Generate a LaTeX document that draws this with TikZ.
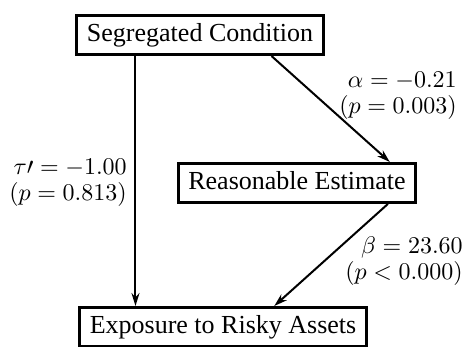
\documentclass[tikz,border=0pt]{standalone}
\usepackage[no-math]{fontspec}
\setmainfont{Liberation Serif}
\usepackage{amsmath,amssymb}
\usetikzlibrary{arrows.meta}
\tikzset{
  box node/.style={
    draw,
    line width=3pt,
    inner xsep=10pt,
    inner ysep=8pt,
    text height=18pt,
    text depth=5pt,
    font=\fontsize{26}{30}\selectfont,
  },
  coef node/.style={
    align=right,
    inner sep=0pt,
    font=\normalsize,
    scale=2.4,
    transform shape,
  },
  path arrow/.style={
    -{Stealth[length=13pt,width=8pt]},
    line width=2pt,
  },
}

\begin{document}
\begin{tikzpicture}[x=1pt, y=-1pt]
        \useasboundingbox (0,0) rectangle (468,346);

        \node[box node] (seg) at (200,35)  {Segregated Condition};
        \node[box node] (est) at (297,183) {Reasonable Estimate};
        \node[box node] (exp) at (223,327) {Exposure to Risky Assets};

        \node[coef node] (alpha) at (398,96)  {$\alpha = -0.21$\\[-1pt]$(p = 0.003)$};
        \node[coef node] (tau)   at (68,183)  {$\tau\prime = -1.00$\\[-1pt]$(p = 0.813)$};
        \node[coef node] (beta)  at (404,261) {$\beta = 23.60$\\[-1pt]$(p < 0.000)$};

        \draw[path arrow] ([xshift=60pt]seg.south west) to ([xshift=60pt]seg.south west |- exp.north);
        \draw[path arrow] ([xshift=196pt]seg.south west) to ([xshift=213pt]est.north west);
        \draw[path arrow] ([xshift=211pt]est.south west) to ([xshift=196pt]exp.north west);
      \end{tikzpicture}
\end{document}
